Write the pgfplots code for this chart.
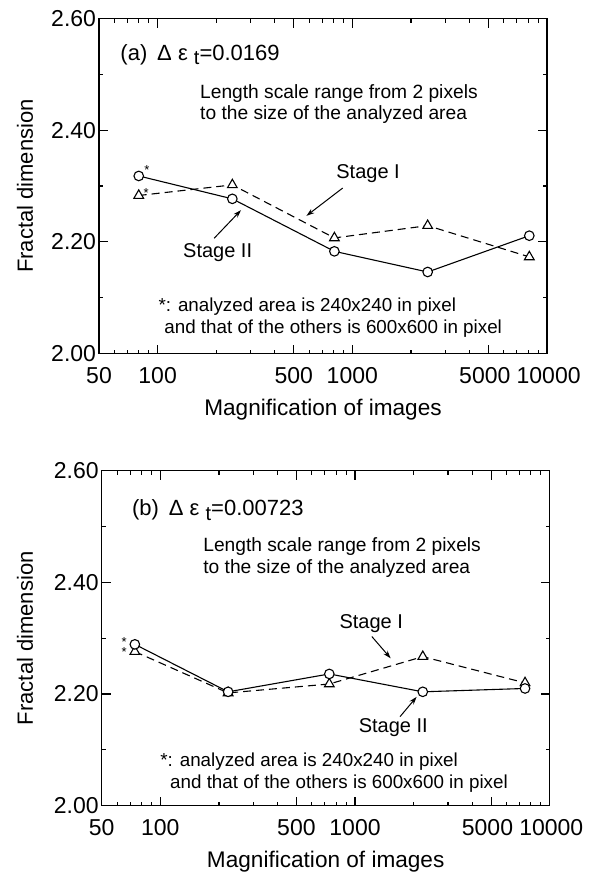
\documentclass[border=0pt]{standalone}
\usepackage{fontspec}
\setmainfont{Liberation Sans}
\usepackage{pgfplots}
\pgfplotsset{compat=1.18}
\usetikzlibrary{arrows.meta}

\tikzset{
 ann/.style={anchor=base west, inner sep=0pt, font=\fontsize{9.6}{10}\selectfont},
 fn/.style={anchor=base west, inner sep=0pt, font=\fontsize{9.4}{10}\selectfont},
 stg/.style={anchor=base west, inner sep=0pt, font=\fontsize{10}{10}\selectfont},
 ast/.style={anchor=base, inner sep=0pt, font=\fontsize{6.5}{7}\selectfont},
 arr/.style={-{Stealth[length=4pt,width=2.6pt]}, line width=0.5pt},
}

\begin{document}
\begin{tikzpicture}
\useasboundingbox (0,0) rectangle (295pt,-436.5pt);

% ---------- (a) ----------
\begin{axis}[at={(49.5pt,-176.75pt)}, anchor=south west,
  scale only axis, width=224pt, height=167.5pt,
  xmode=log, xmin=50, xmax=10000, ymin=2, ymax=2.6,
  clip=false,
  xtick={50,100,500,1000,5000,10000},
  xticklabels={50,100,500,1000,{\kern-3.6pt 5000},{10000\kern-1.6pt}},
  minor xtick={60,70,80,90,200,300,400,600,700,800,900,2000,3000,4000,6000,7000,8000,9000},
  ytick={2,2.2,2.4,2.6},
  yticklabels={2.00,2.20,2.40,2.60},
  minor ytick={2.1,2.3,2.5},
  tick label style={font=\fontsize{11.5}{12}\selectfont},
  xticklabel style={inner sep=0pt, anchor=north, yshift=-6.8pt},
  yticklabel style={inner sep=0pt, anchor=east, xshift=-1.3pt},
  major tick length=4.5pt, minor tick length=2pt,
  tick style={black, line width=0.6pt},
  axis line style={line width=0.75pt},
  xlabel={Magnification of images},
  ylabel={Fractal dimension},
  every axis x label/.style={at={(axis description cs:0.5,0)}, anchor=base, yshift=-30.8pt, font=\fontsize{11.3}{12}\selectfont},
  every axis y label/.style={at={(axis description cs:-0.165,0.5)}, rotate=90, anchor=center, font=\fontsize{11}{12}\selectfont}]
\addplot[black, line width=0.55pt, dash pattern=on 4pt off 2.5pt, mark=triangle*, mark size=2.8pt, mark options={fill=white, solid}]
  coordinates {(80,2.283) (242,2.302) (809,2.207) (2438,2.229) (8110,2.173)};
\addplot[black, line width=0.55pt, mark=*, mark size=2.4pt, mark options={fill=white, solid}]
  coordinates {(80,2.318) (242,2.277) (809,2.183) (2438,2.146) (8110,2.211)};
\node[anchor=base west, inner sep=0pt, font=\fontsize{11}{12}\selectfont] at (rel axis cs:0.047,0.875)
  {(a)\hspace{0.45em}Δ ε \raisebox{-2.2pt}{\fontsize{10}{10}\selectfont t}=0.0169};
\node[ann] at (rel axis cs:0.225,0.761) {Length scale range from 2 pixels};
\node[ann] at (rel axis cs:0.225,0.699) {to the size of the analyzed area};
\node[stg] at (rel axis cs:0.529,0.522) {Stage I};
\draw[arr] (rel axis cs:0.544,0.494) -- (rel axis cs:0.463,0.411);
\node[stg] at (rel axis cs:0.187,0.286) {Stage II};
\draw[arr] (rel axis cs:0.257,0.344) -- (rel axis cs:0.317,0.428);
\node[ast] at (rel axis cs:0.107,0.535) {*};
\node[ast] at (rel axis cs:0.105,0.466) {*};
\node[fn] at (rel axis cs:0.132,0.125) {*: analyzed area is 240x240 in pixel};
\node[fn] at (rel axis cs:0.145,0.060) {and that of the others is 600x600 in pixel};
\end{axis}

% ---------- (b) ----------
\begin{axis}[at={(50.85pt,-402.85pt)}, anchor=south west,
  scale only axis, width=224pt, height=167.5pt,
  xmode=log, xmin=50, xmax=10000, ymin=2, ymax=2.6,
  clip=false,
  xtick={50,100,500,1000,5000,10000},
  xticklabels={50,100,500,1000,{\kern-3.6pt 5000},{10000\kern-1.6pt}},
  minor xtick={60,70,80,90,200,300,400,600,700,800,900,2000,3000,4000,6000,7000,8000,9000},
  ytick={2,2.2,2.4,2.6},
  yticklabels={2.00,2.20,2.40,2.60},
  minor ytick={2.1,2.3,2.5},
  tick label style={font=\fontsize{11.5}{12}\selectfont},
  xticklabel style={inner sep=0pt, anchor=north, yshift=-6.8pt},
  yticklabel style={inner sep=0pt, anchor=east, xshift=-1.3pt},
  major tick length=4.5pt, minor tick length=2pt,
  tick style={black, line width=0.6pt},
  axis line style={line width=0.75pt},
  xlabel={Magnification of images},
  ylabel={Fractal dimension},
  every axis x label/.style={at={(axis description cs:0.5,0)}, anchor=base, yshift=-30.8pt, font=\fontsize{11.3}{12}\selectfont},
  every axis y label/.style={at={(axis description cs:-0.171,0.5)}, rotate=90, anchor=center, font=\fontsize{11}{12}\selectfont}]
\addplot[black, line width=0.55pt, dash pattern=on 4pt off 2.5pt, mark=triangle*, mark size=2.8pt, mark options={fill=white, solid}]
  coordinates {(74,2.276) (223,2.202) (738,2.218) (2229,2.267) (7470,2.220)};
\addplot[black, line width=0.55pt, mark=*, mark size=2.4pt, mark options={fill=white, solid}]
  coordinates {(74,2.289) (223,2.204) (738,2.236) (2229,2.204) (7470,2.210)};
\node[anchor=base west, inner sep=0pt, font=\fontsize{11}{12}\selectfont] at (rel axis cs:0.067,0.865)
  {(b)\hspace{0.45em}Δ ε \raisebox{-2.2pt}{\fontsize{10}{10}\selectfont t}=0.00723};
\node[ann] at (rel axis cs:0.226,0.758) {Length scale range from 2 pixels};
\node[ann] at (rel axis cs:0.226,0.694) {to the size of the analyzed area};
\node[stg] at (rel axis cs:0.530,0.530) {Stage I};
\draw[arr] (rel axis cs:0.603,0.505) -- (rel axis cs:0.645,0.440);
\node[stg] at (rel axis cs:0.573,0.219) {Stage II};
\draw[arr] (rel axis cs:0.666,0.266) -- (rel axis cs:0.703,0.325);
\node[ast] at (rel axis cs:0.050,0.474) {*};
\node[ast] at (rel axis cs:0.050,0.444) {*};
\node[fn] at (rel axis cs:0.130,0.116) {*: analyzed area is 240x240 in pixel};
\node[fn] at (rel axis cs:0.152,0.052) {and that of the others is 600x600 in pixel};
\end{axis}
\end{tikzpicture}
\end{document}
